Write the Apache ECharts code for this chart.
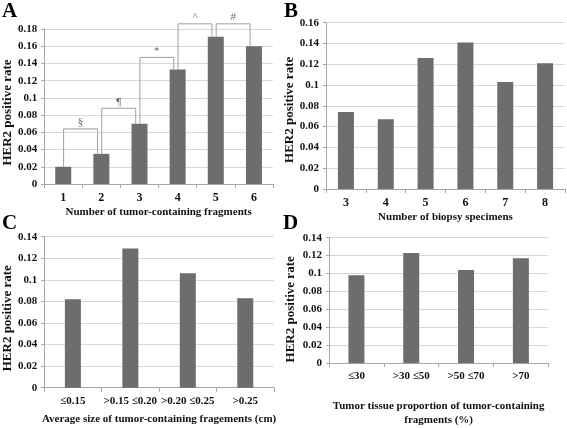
<!DOCTYPE html>
<html>
<head>
<meta charset="utf-8">
<script src="https://cdn.jsdelivr.net/npm/echarts@6/dist/echarts.min.js"></script>
<style>
html,body{margin:0;padding:0;background:#fff;}
#c{width:567px;height:428px;}
</style>
</head>
<body>
<div id="c"></div>
<script>
// ---- Data ----
var catsA = ['1', '2', '3', '4', '5', '6'];
var valsA = [0.020, 0.035, 0.070, 0.133, 0.171, 0.160];
var catsB = ['3', '4', '5', '6', '7', '8'];
var valsB = [0.074, 0.067, 0.126, 0.141, 0.103, 0.121];
var catsC = ['≤0.15', '>0.15 ≤0.20', '>0.20 ≤0.25', '>0.25'];
var valsC = [0.082, 0.129, 0.106, 0.083];
var catsD = ['≤30', '>30 ≤50', '>50 ≤70', '>70'];
var valsD = [0.098, 0.123, 0.104, 0.117];
var ticksA = [0, 0.02, 0.04, 0.06, 0.08, 0.1, 0.12, 0.14, 0.16, 0.18];
var ticksB = [0, 0.02, 0.04, 0.06, 0.08, 0.1, 0.12, 0.14, 0.16];
var ticksCD = [0, 0.02, 0.04, 0.06, 0.08, 0.1, 0.12, 0.14];
// significance brackets in panel A (category numbers)
var bracketPairs = [[1, 2], [2, 3], [3, 4], [4, 5], [5, 6]];
var bracketHeights = [0.064, 0.088, 0.147, 0.186, 0.186];
var bracketLabels = ['§', '¶', '*', '^', '#'];

// ---- Styles ----
var FONT = "'Liberation Serif', 'Times New Roman', serif";
var BAR = '#6d6d6d';
var AXIS = '#a6a6a6';
var GRIDC = '#d9d9d9';

var grids = [
  {left: 39, right: 294, top: 29, bottom: 244},
  {left: 326, right: 2, top: 22.7, bottom: 239},
  {left: 43.3, right: 293, top: 236.7, bottom: 40.3},
  {left: 329, right: 18.7, top: 237.7, bottom: 54}
];

function xAx(i, cats, name, gap, fs) {
  return {
    type: 'category', gridIndex: i, data: cats,
    boundaryGap: true,
    axisLine: {lineStyle: {color: AXIS, width: 1}},
    axisTick: {show: true, length: 4, lineStyle: {color: AXIS}, alignWithLabel: false},
    axisLabel: {color: '#111', fontFamily: FONT, fontWeight: 'bold', fontSize: fs, margin: 8, interval: 0},
    name: name, nameLocation: 'middle', nameGap: gap,
    nameTextStyle: {color: '#111', fontFamily: FONT, fontWeight: 'bold', fontSize: 11, lineHeight: 14}
  };
}
function yAx(i, ticks, gap, down) {
  return {
    type: 'value', gridIndex: i,
    min: ticks[0], max: ticks[ticks.length - 1], interval: 0.02,
    axisLine: {show: true, lineStyle: {color: AXIS, width: 1}},
    axisTick: {show: true, length: 3, lineStyle: {color: AXIS}},
    splitLine: {show: true, lineStyle: {color: GRIDC, width: 1}},
    axisLabel: {color: '#111', fontFamily: FONT, fontWeight: 'bold', fontSize: 11, margin: 7,
      formatter: function (v) { return String(Math.round(v * 100) / 100); }},
    name: 'HER2 positive rate', nameLocation: 'middle', nameGap: gap, nameRotate: 90,
    nameTextStyle: {color: '#111', fontFamily: FONT, fontWeight: 'bold', fontSize: 13,
      padding: [0, down * 2, 0, 0]}
  };
}

var xAxes = [
  xAx(0, catsA, 'Number of tumor-containing fragments', 21, 12),
  xAx(1, catsB, 'Number of biopsy specimens', 17, 12),
  xAx(2, catsC, 'Average size of tumor-containing fragements (cm)', 24, 11),
  xAx(3, catsD, 'Tumor tissue proportion of tumor-containing\nfragments (%)', 36, 11),
  {type: 'value', gridIndex: 0, min: 0.5, max: catsA.length + 0.5, show: false}
];
var yAxes = [
  yAx(0, ticksA, 26, 6),
  yAx(1, ticksB, 29, 4),
  yAx(2, ticksCD, 29, 6),
  yAx(3, ticksCD, 32, 9)
];

function barSeries(i, vals) {
  return {type: 'bar', xAxisIndex: i, yAxisIndex: i, data: vals, barWidth: 16,
    itemStyle: {color: BAR}, silent: true};
}
var series = [barSeries(0, valsA), barSeries(1, valsB), barSeries(2, valsC), barSeries(3, valsD)];

bracketPairs.forEach(function (p, k) {
  var l = p[0] + 0.01, r = p[1] - 0.1, h = bracketHeights[k];
  series.push({
    type: 'line', xAxisIndex: 4, yAxisIndex: 0, clip: false, symbol: 'none', silent: true,
    lineStyle: {color: '#a0a0a0', width: 1},
    data: [[l, valsA[p[0] - 1]], [l, h], [r, h], [r, valsA[p[1] - 1]]]
  });
  series.push({
    type: 'scatter', xAxisIndex: 4, yAxisIndex: 0, clip: false, symbolSize: 0, silent: true,
    data: [[(l + r) / 2, h]],
    label: {show: true, position: 'top', distance: 1, formatter: bracketLabels[k],
      color: '#444', fontFamily: FONT, fontSize: 11}
  });
});

var titleStyle = {color: '#000', fontFamily: FONT, fontWeight: 'bold', fontSize: 21};
var chart = echarts.init(document.getElementById('c'), null, {renderer: 'canvas'});
chart.setOption({
  animation: false,
  backgroundColor: '#fff',
  title: [
    {text: 'A', left: -3, top: -4, textStyle: titleStyle},
    {text: 'B', left: 279, top: -4, textStyle: titleStyle},
    {text: 'C', left: -3, top: 208, textStyle: titleStyle},
    {text: 'D', left: 278, top: 208, textStyle: titleStyle}
  ],
  grid: grids,
  xAxis: xAxes,
  yAxis: yAxes,
  series: series
});
</script>
</body>
</html>
